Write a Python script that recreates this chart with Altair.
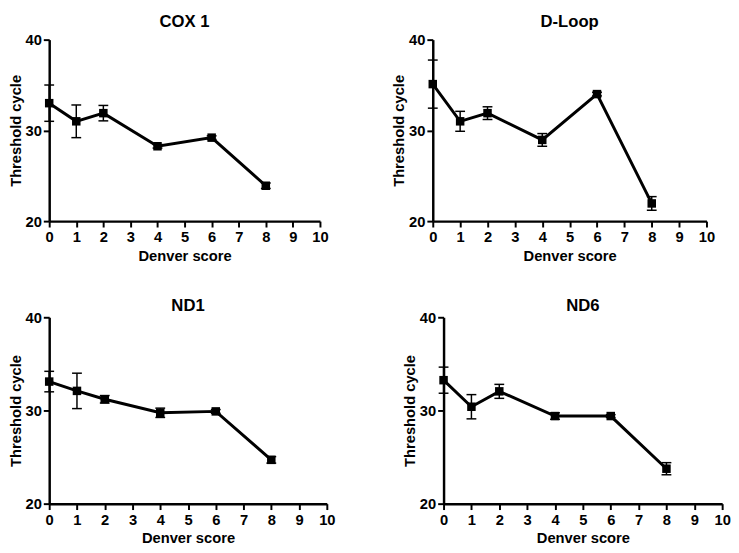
import altair as alt
import pandas as pd

denver = [0, 1, 2, 4, 6, 8]

cox1_mean = [33.0, 31.0, 31.9, 28.25, 29.2, 23.9]
cox1_err = [2.0, 1.8, 0.85, 0.2, 0.2, 0.3]

dloop_mean = [35.1, 31.0, 31.9, 28.95, 34.0, 21.95]
dloop_err = [2.65, 1.1, 0.7, 0.7, 0.2, 0.75]

nd1_mean = [33.1, 32.1, 31.2, 29.75, 29.9, 24.7]
nd1_err = [1.1, 1.9, 0.4, 0.5, 0.2, 0.35]

nd6_mean = [33.25, 30.4, 32.05, 29.4, 29.4, 23.75]
nd6_err = [1.4, 1.3, 0.75, 0.35, 0.15, 0.65]

x_ticks = list(range(0, 11))
y_ticks = [20, 30, 40]


def panel(name, mean, err, w, h, title_offset):
    df = pd.DataFrame({
        "x": denver,
        "y": mean,
        "lo": [m - e for m, e in zip(mean, err)],
        "hi": [m + e for m, e in zip(mean, err)],
    })
    base = alt.Chart(df)
    xs = alt.Scale(domain=[0, 10], nice=False)
    ys = alt.Scale(domain=[20, 40], nice=False, zero=False)
    xax = alt.Axis(values=x_ticks, title="Denver score", labelFlush=False,
                   labelPadding=3, titlePadding=4)
    yax = alt.Axis(values=y_ticks, title="Threshold cycle", labelFlush=False,
                   labelPadding=2, titlePadding=2)

    def X(f):
        return alt.X(f"{f}:Q", scale=xs, axis=xax, title="Denver score")

    def Y(f):
        return alt.Y(f"{f}:Q", scale=ys, axis=yax, title="Threshold cycle")

    line = base.mark_line(color="black", strokeWidth=3).encode(x=X("x"), y=Y("y"))
    bars = base.mark_rule(color="black", strokeWidth=1.5).encode(
        x=X("x"), y=Y("lo"), y2="hi:Q")
    cap_lo = base.mark_tick(color="black", orient="horizontal", size=10,
                            thickness=1.5, opacity=1).encode(x=X("x"), y=Y("lo"))
    cap_hi = base.mark_tick(color="black", orient="horizontal", size=10,
                            thickness=1.5, opacity=1).encode(x=X("x"), y=Y("hi"))
    pts = base.mark_square(color="black", size=75, opacity=1).encode(
        x=X("x"), y=Y("y"))
    return alt.layer(line, bars, cap_lo, cap_hi, pts).properties(
        width=w, height=h,
        title=alt.TitleParams(name, offset=title_offset, anchor="middle"),
    )


p1 = panel("COX 1", cox1_mean, cox1_err, 276, 185, 2)
p2 = panel("D-Loop", dloop_mean, dloop_err, 279, 185, 2)
p3 = panel("ND1", nd1_mean, nd1_err, 283, 190, -5)
p4 = panel("ND6", nd6_mean, nd6_err, 284, 190, -5)

top = alt.hconcat(p1, p2, spacing=64)
bottom = alt.hconcat(p3, p4, spacing=68)

chart = alt.vconcat(top, bottom, spacing=35, padding=0).configure(
    font="Liberation Sans"
).configure_view(stroke=None).configure_axis(
    grid=False,
    domainColor="black",
    domainWidth=2.5,
    tickColor="black",
    tickWidth=2,
    tickSize=6,
    labelColor="black",
    labelFont="Liberation Sans",
    labelFontSize=15,
    labelFontWeight="bold",
    titleColor="black",
    titleFont="Liberation Sans",
    titleFontSize=15,
    titleFontWeight="bold",
).configure_title(
    font="Liberation Sans", fontSize=17, fontWeight="bold", color="black"
)

chart.save("out.html", embed_options={"renderer": "svg", "actions": False})
